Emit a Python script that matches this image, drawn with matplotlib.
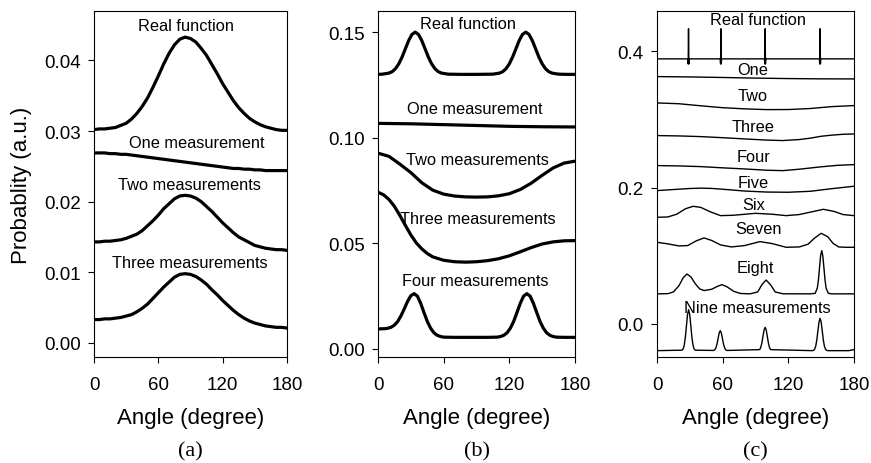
import matplotlib
matplotlib.use("Agg")
import matplotlib.pyplot as plt
from matplotlib.ticker import FormatStrFormatter

plt.rcParams['font.family'] = ['Liberation Sans', 'DejaVu Sans']

# ---- panel (a): common angle grid, step 5 degrees
a_angle = list(range(0, 181, 5))
a_real = [0.0302, 0.0303, 0.0303, 0.0304, 0.0305, 0.0308, 0.0311, 0.0317, 0.0325, 0.0335,
          0.0347, 0.0362, 0.0378, 0.0395, 0.0410, 0.0422, 0.0430, 0.0433, 0.0431, 0.0426,
          0.0417, 0.0407, 0.0394, 0.0381, 0.0367, 0.0355, 0.0343, 0.0333, 0.0325, 0.0318,
          0.0313, 0.0309, 0.0306, 0.0304, 0.0302, 0.0301, 0.0301]
a_one = [0.0269, 0.0269, 0.0269, 0.0268, 0.0268, 0.0267, 0.0267, 0.0266, 0.0265, 0.0264,
         0.0263, 0.0262, 0.0261, 0.0260, 0.0259, 0.0258, 0.0257, 0.0256, 0.0255, 0.0254,
         0.0253, 0.0252, 0.0251, 0.0250, 0.0249, 0.0248, 0.0247, 0.0247, 0.0246, 0.0246,
         0.0245, 0.0245, 0.0244, 0.0244, 0.0244, 0.0244, 0.0244]
a_two = [0.0143, 0.0143, 0.0144, 0.0144, 0.0145, 0.0146, 0.0148, 0.0151, 0.0154, 0.0159,
         0.0166, 0.0173, 0.0181, 0.0190, 0.0197, 0.0204, 0.0208, 0.0209, 0.0208, 0.0205,
         0.0200, 0.0193, 0.0186, 0.0178, 0.0170, 0.0163, 0.0156, 0.0150, 0.0146, 0.0142,
         0.0138, 0.0136, 0.0134, 0.0133, 0.0132, 0.0132, 0.0131]
a_three = [0.0033, 0.0033, 0.0034, 0.0034, 0.0035, 0.0036, 0.0038, 0.0040, 0.0044, 0.0049,
           0.0055, 0.0063, 0.0071, 0.0079, 0.0086, 0.0093, 0.0097, 0.0098, 0.0097, 0.0094,
           0.0089, 0.0083, 0.0075, 0.0068, 0.0060, 0.0053, 0.0046, 0.0040, 0.0035, 0.0031,
           0.0028, 0.0026, 0.0024, 0.0023, 0.0022, 0.0022, 0.0021]

# ---- panel (b)
b_real_x = [0, 4, 10, 13, 16, 19, 22, 25, 28, 31, 34, 37, 40, 43, 46, 49, 52, 55, 58, 64,
            75, 90, 105, 111, 114, 117, 120, 123, 126, 129, 132, 135, 138, 141, 144, 147,
            150, 153, 156, 159, 165, 172, 180]
b_real_y = [0.1300, 0.1301, 0.1306, 0.1313, 0.1327, 0.1350, 0.1382, 0.1421, 0.1460, 0.1489,
            0.1500, 0.1489, 0.1460, 0.1421, 0.1382, 0.1350, 0.1327, 0.1313, 0.1306, 0.1301,
            0.1300, 0.1300, 0.1301, 0.1306, 0.1313, 0.1327, 0.1350, 0.1382, 0.1421, 0.1460,
            0.1489, 0.1500, 0.1489, 0.1460, 0.1421, 0.1382, 0.1350, 0.1327, 0.1313, 0.1306,
            0.1301, 0.1300, 0.1300]
b_one_x = [0, 30, 60, 90, 120, 150, 180]
b_one_y = [0.1068, 0.1066, 0.1062, 0.1058, 0.1054, 0.1052, 0.1051]
b_two_x = list(range(0, 181, 10))
b_two_y = [0.0927, 0.0912, 0.0875, 0.0835, 0.0787, 0.0752, 0.0733, 0.0724, 0.0720, 0.0719,
           0.0720, 0.0725, 0.0735, 0.0755, 0.0785, 0.0822, 0.0857, 0.0880, 0.0889]
b_three_x = [0, 5, 10, 15, 20, 25, 30, 35, 40, 45, 50, 60, 70, 80, 90, 100, 110, 120, 130,
             140, 150, 160, 170, 180]
b_three_y = [0.0742, 0.0730, 0.0708, 0.0675, 0.0632, 0.0585, 0.0540, 0.0502, 0.0474, 0.0452,
             0.0436, 0.0420, 0.0413, 0.0411, 0.0413, 0.0418, 0.0427, 0.0441, 0.0460, 0.0480,
             0.0497, 0.0507, 0.0512, 0.0513]
b_four_x = [0, 6, 9, 12, 15, 18, 21, 24, 27, 30, 33, 36, 39, 42, 45, 48, 51, 54, 57, 60,
            70, 100, 109, 112, 115, 118, 121, 124, 127, 130, 133, 136, 139, 142, 145, 148,
            151, 154, 157, 160, 163, 170, 180]
b_four_y = [0.0095, 0.0096, 0.0098, 0.0103, 0.0113, 0.0130, 0.0157, 0.0190, 0.0225, 0.0252,
            0.0262, 0.0250, 0.0216, 0.0173, 0.0131, 0.0099, 0.0077, 0.0065, 0.0059, 0.0056,
            0.0055, 0.0055, 0.0056, 0.0059, 0.0065, 0.0077, 0.0099, 0.0131, 0.0173, 0.0216,
            0.0250, 0.0262, 0.0250, 0.0216, 0.0173, 0.0131, 0.0099, 0.0077, 0.0065, 0.0059,
            0.0056, 0.0055, 0.0055]

# ---- panel (c)
c_real_x = [0, 28.2, 28.5, 28.8, 29.1, 29.4, 57.8, 58.1, 58.4, 58.7, 59.0,
            98.2, 98.5, 98.8, 99.1, 99.4, 148.4, 148.7, 149.0, 149.3, 149.6, 180]
c_real_y = [0.3888, 0.3888, 0.3814, 0.4330, 0.3814, 0.3888, 0.3888, 0.3814, 0.4330, 0.3814, 0.3888,
            0.3888, 0.3814, 0.4330, 0.3814, 0.3888, 0.3888, 0.3814, 0.4330, 0.3814, 0.3888, 0.3888]
c_one_x = [0, 30, 60, 90, 120, 150, 180]
c_one_y = [0.3628, 0.3623, 0.3615, 0.3606, 0.3599, 0.3595, 0.3594]
c_two_x = [0, 20, 40, 60, 80, 100, 120, 140, 160, 180]
c_two_y = [0.3242, 0.3230, 0.3200, 0.3172, 0.3155, 0.3144, 0.3145, 0.3160, 0.3188, 0.3203]
c_three_x = [0, 20, 40, 60, 80, 100, 115, 130, 140, 150, 160, 170, 180]
c_three_y = [0.2763, 0.2758, 0.2748, 0.2732, 0.2714, 0.2697, 0.2690, 0.2705, 0.2725, 0.2753,
             0.2770, 0.2782, 0.2787]
c_four_x = [0, 20, 40, 60, 80, 100, 115, 130, 150, 165, 180]
c_four_y = [0.2323, 0.2318, 0.2308, 0.2290, 0.2274, 0.2255, 0.2249, 0.2270, 0.2305, 0.2327, 0.2337]
c_five_x = [0, 15, 30, 40, 50, 65, 80, 100, 120, 140, 160, 180]
c_five_y = [0.1956, 0.1972, 0.1987, 0.1992, 0.1988, 0.1970, 0.1950, 0.1935, 0.1932, 0.1946,
            0.1985, 0.2020]
c_six_x = [0, 10, 18, 26, 33, 40, 48, 58, 70, 90, 105, 118, 130, 140, 152, 162, 170, 180]
c_six_y = [0.1565, 0.1570, 0.1610, 0.1690, 0.1726, 0.1710, 0.1650, 0.1589, 0.1595, 0.1623,
           0.1610, 0.1589, 0.1605, 0.1640, 0.1682, 0.1650, 0.1605, 0.1589]
c_seven_x = [0, 10, 20, 28, 36, 43, 50, 58, 68, 80, 94, 105, 118, 130, 138, 144, 150, 156,
             161, 166, 172, 180]
c_seven_y = [0.1198, 0.1175, 0.1145, 0.1150, 0.1220, 0.1262, 0.1225, 0.1160, 0.1130, 0.1150,
             0.1208, 0.1180, 0.1125, 0.1130, 0.1170, 0.1260, 0.1330, 0.1280, 0.1180, 0.1130,
             0.1125, 0.1125]
c_eight_x = [0, 10, 15, 20, 24, 27.4, 31, 35, 39, 43, 50, 55, 59.3, 64, 70, 76, 85, 92, 96,
             99.7, 104, 108, 115, 140, 144.5, 146.5, 147.5, 148.5, 149.5, 150.5, 151.5, 152.5,
             153.5, 154.5, 156.5, 160, 180]
c_eight_y = [0.0442, 0.0445, 0.0470, 0.0560, 0.0680, 0.0733, 0.0690, 0.0590, 0.0515, 0.0490,
             0.0510, 0.0550, 0.0577, 0.0545, 0.0480, 0.0448, 0.0442, 0.0470, 0.0580, 0.0645,
             0.0570, 0.0470, 0.0443, 0.0442, 0.0449, 0.0528, 0.0648, 0.0827, 0.1001, 0.1076,
             0.1001, 0.0827, 0.0648, 0.0528, 0.0449, 0.0442, 0.0442]
c_nine_x = [0, 22.9, 23.9, 24.9, 25.9, 26.9, 27.9, 28.9, 29.9, 30.9, 31.9, 32.9, 33.9, 34.9,
            51.8, 52.8, 53.8, 54.8, 55.8, 56.8, 57.8, 58.8, 59.8, 60.8, 61.8, 62.8, 63.8,
            93.8, 94.8, 95.8, 96.8, 97.8, 98.8, 99.8, 100.8, 101.8, 102.8, 103.8,
            142, 143, 144, 145, 146, 147, 148, 149, 150, 151, 152, 153, 154, 155, 156,
            175, 180]
c_nine_y = [-0.0391, -0.0384, -0.0365, -0.0310, -0.0196, -0.0026, 0.0139, 0.0210, 0.0139,
            -0.0026, -0.0196, -0.0310, -0.0365, -0.0384,
            -0.0388, -0.0378, -0.0351, -0.0296, -0.0213, -0.0133, -0.0098, -0.0133, -0.0213,
            -0.0296, -0.0351, -0.0378, -0.0388,
            -0.0376, -0.0345, -0.0280, -0.0183, -0.0089, -0.0049, -0.0089, -0.0183, -0.0280,
            -0.0345, -0.0376,
            -0.0391, -0.0386, -0.0370, -0.0327, -0.0237, -0.0103, 0.0027, 0.0083, 0.0027,
            -0.0103, -0.0237, -0.0327, -0.0370, -0.0386, -0.0391,
            -0.0391, -0.0376]

a_labels = ["Real function", "One measurement", "Two measurements", "Three measurements"]
b_labels = ["Real function", "One measurement", "Two measurements", "Three measurements",
            "Four measurements"]
c_labels = ["Real function", "One", "Two", "Three", "Four", "Five", "Six", "Seven", "Eight",
            "Nine measurements"]
angle_ticks = [0, 60, 120, 180]


fig = plt.figure(figsize=(8.71, 4.64), dpi=100)

W, H = 871, 464
def px_axes(left, right, top=12, bottom=358):
    return fig.add_axes([left / W, 1 - bottom / H, (right - left) / W, (bottom - top) / H])

ax_a = px_axes(94, 287)
ax_b = px_axes(378, 575)
ax_c = px_axes(657, 854)

thick = 2.3
ax_a.plot(a_angle, a_real, color='k', lw=thick)
ax_a.plot(a_angle, a_one, color='k', lw=thick)
ax_a.plot(a_angle, a_two, color='k', lw=thick)
ax_a.plot(a_angle, a_three, color='k', lw=thick)

ax_b.plot(b_real_x, b_real_y, color='k', lw=thick)
ax_b.plot(b_one_x, b_one_y, color='k', lw=thick)
ax_b.plot(b_two_x, b_two_y, color='k', lw=thick)
ax_b.plot(b_three_x, b_three_y, color='k', lw=thick)
ax_b.plot(b_four_x, b_four_y, color='k', lw=thick)

thin = 1.0
for xs, ys in [(c_real_x, c_real_y), (c_one_x, c_one_y), (c_two_x, c_two_y),
               (c_three_x, c_three_y), (c_four_x, c_four_y), (c_five_x, c_five_y),
               (c_six_x, c_six_y), (c_seven_x, c_seven_y), (c_eight_x, c_eight_y),
               (c_nine_x, c_nine_y)]:
    ax_c.plot(xs, ys, color='k', lw=thin)

# label placement (data coords)
a_pos = [(86, 0.0449), (96, 0.0284), (89, 0.02245), (89.5, 0.0114)]
b_pos = [(82, 0.1540), (88, 0.1137), (91, 0.0895), (91.5, 0.0616), (89, 0.0324)]
c_pos = [(92, 0.4465), (87.6, 0.3731), (87.3, 0.335), (88.2, 0.2895), (88.2, 0.246),
         (88.2, 0.2078), (88.2, 0.1746), (92.7, 0.1394), (89.7, 0.0831), (91.8, 0.0244)]

for ax, labels, pos in [(ax_a, a_labels, a_pos), (ax_b, b_labels, b_pos), (ax_c, c_labels, c_pos)]:
    for txt, (x, y) in zip(labels, pos):
        ax.text(x, y, txt, ha='center', va='center', fontsize=11.8)

ax_a.set_ylim(-0.002, 0.047)
ax_a.set_yticks([0.00, 0.01, 0.02, 0.03, 0.04])
ax_a.yaxis.set_major_formatter(FormatStrFormatter('%.2f'))
ax_b.set_ylim(-0.0038, 0.160)
ax_b.set_yticks([0.00, 0.05, 0.10, 0.15])
ax_b.yaxis.set_major_formatter(FormatStrFormatter('%.2f'))
ax_c.set_ylim(-0.0484, 0.459)
ax_c.set_yticks([0.0, 0.2, 0.4])
ax_c.yaxis.set_major_formatter(FormatStrFormatter('%.1f'))

for ax, tag in [(ax_a, '(a)'), (ax_b, '(b)'), (ax_c, '(c)')]:
    ax.set_xlim(0, 180)
    ax.set_xticks(angle_ticks)
    ax.tick_params(direction='out', length=4.5, width=0.8, labelsize=13.5)
    ax.tick_params(axis='x', pad=9)
    ax.tick_params(axis='y', pad=5)
    for sp in ax.spines.values():
        sp.set_linewidth(0.8)
    ax.set_xlabel('Angle (degree)', fontsize=16)
    ax.xaxis.set_label_coords(0.5, -0.145)
    pos = ax.get_position()
    fig.text(pos.x0 + pos.width / 2, 1 - 452 / H, tag, ha='center', va='center',
             fontsize=16, family='Liberation Serif')

ax_a.set_ylabel('Probablity (a.u.)', fontsize=16)
ax_a.yaxis.set_label_coords(-0.32, 0.5)

fig.savefig('out.png', dpi=100)
